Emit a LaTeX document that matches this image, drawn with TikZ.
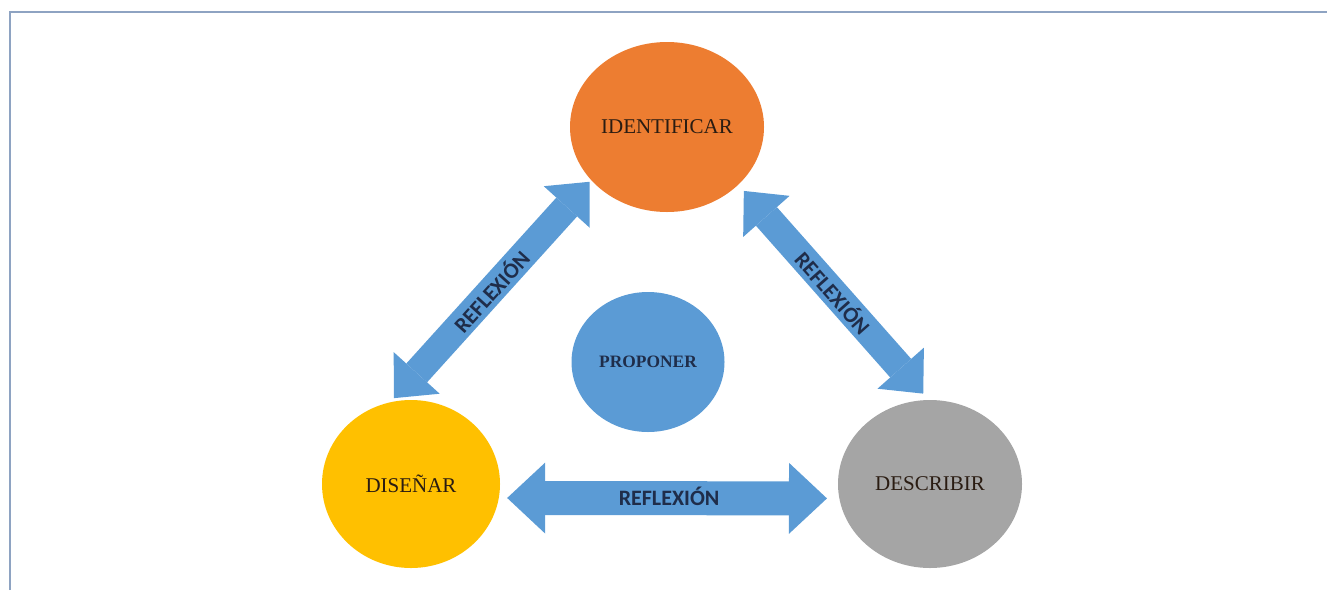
\documentclass[tikz,border=0pt]{standalone}
\usepackage{fontspec}
\setmainfont{Liberation Serif}
\newfontfamily\labelfont{Carlito}
\usetikzlibrary{arrows.meta,shapes.geometric}

\definecolor{idorange}{HTML}{ED7D31}
\definecolor{prblue}{HTML}{5B9BD5}
\definecolor{diyellow}{HTML}{FFC000}
\definecolor{degray}{HTML}{A5A5A5}
\definecolor{framecol}{HTML}{8EA3C2}
\definecolor{navytext}{HTML}{1F2D4A}
\definecolor{stagetext}{HTML}{2A1C12}

\begin{document}
\begin{tikzpicture}[x=0.5pt,y=-0.5pt,
    stage/.style={ellipse, fill=#1, inner sep=0pt, text=stagetext,
        font=\fontsize{10.5}{12}\selectfont},
    twoway/.style={draw=prblue, line width=14pt,
        arrows={Triangle[length=17pt 0,width=31pt 0,line width=0pt 0]-Triangle[length=17pt 0,width=31pt 0,line width=0pt 0]}},
    wideway/.style={draw=prblue, line width=17pt,
        arrows={Triangle[length=19pt 0,width=35.5pt 0,line width=0pt 0]-Triangle[length=19pt 0,width=35.5pt 0,line width=0pt 0]}},
    reflex/.style={text=navytext, font=\labelfont\bfseries\fontsize{11}{13}\selectfont}]
\useasboundingbox (0,0) rectangle (1327,590);
% Frame
\draw[framecol, line width=1pt] (10,590) -- (10,12) -- (1327,12);

% Stages
\node[stage=idorange, minimum width=97pt, minimum height=85pt] (ide) at (667,127) {IDENTIFICAR};
\node[stage=prblue, minimum width=76.5pt, minimum height=70pt, text=navytext,
      font=\bfseries\fontsize{8.7}{10}\selectfont] (pro) at (648,362) {PROPONER};
\node[stage=diyellow, minimum width=89pt, minimum height=84pt] (dis) at (411,484) {DISEÑAR};
\node[stage=degray, minimum width=92pt, minimum height=84pt] (des) at (930,484) {DESCRIBIR};

% Arrows
\draw[twoway, shorten <=2.5pt, shorten >=1pt] (dis.104) -- (ide.215)
    node[reflex, sloped, midway] {REFLEXIÓN};
\draw[twoway, shorten <=4pt, shorten >=4pt] (ide.321.5) -- (des.91)
    node[reflex, sloped, midway] {REFLEXIÓN};
\draw[wideway, shorten <=4pt, shorten >=6pt] (dis.-9) -- (des.189)
    node[reflex, midway, yshift=1pt] {REFLEXIÓN};
\end{tikzpicture}
\end{document}
